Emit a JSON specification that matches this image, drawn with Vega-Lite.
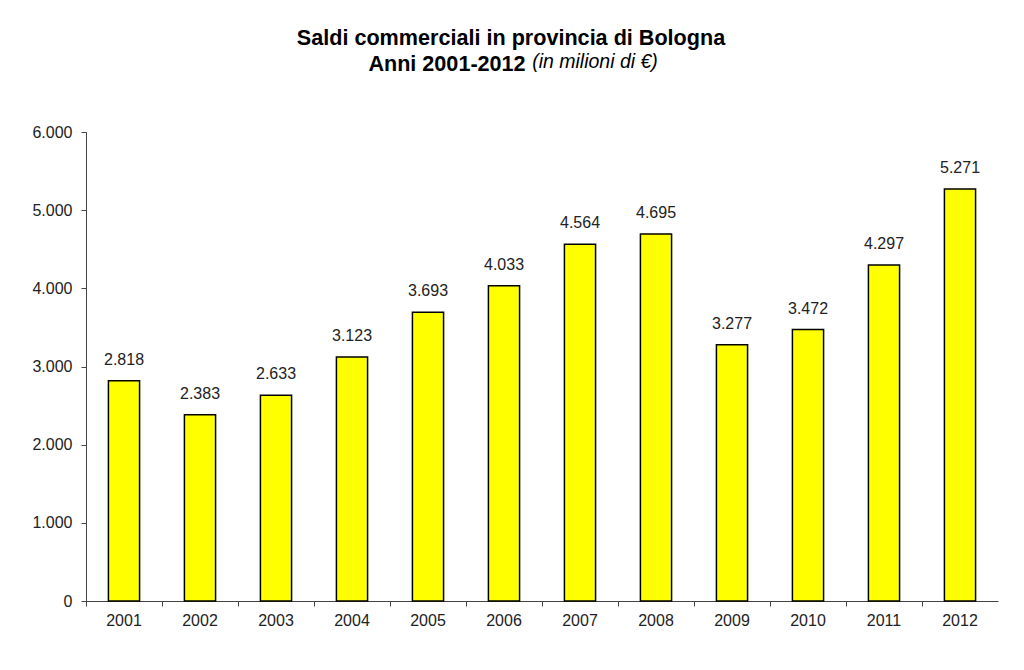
{
  "$schema": "https://vega.github.io/schema/vega-lite/v6.json",
  "width": 912,
  "height": 469,
  "autosize": "none",
  "padding": {"left": 86, "top": 132, "right": 26, "bottom": 69},
  "background": "white",
  "config": {
    "locale": {"number": {"decimal": ",", "thousands": ".", "grouping": [3], "currency": ["€", ""]}},
    "font": "Liberation Sans",
    "view": {"stroke": null}
  },
  "title": {
    "text": ["Saldi commerciali in provincia di Bologna", "Anni 2001-2012\u2800\u2800\u2800\u2800\u2800\u2800\u2800\u2800"],
    "subtitle": "\u2800\u2800\u2800\u2800\u2800\u2800\u2800\u2800\u2800\u2800\u2800\u2800(in milioni di €)",
    "anchor": "middle",
    "dx": -31,
    "fontSize": 21.6,
    "fontWeight": "bold",
    "color": "#000000",
    "lineHeight": 26,
    "subtitleFontSize": 19.5,
    "subtitleFontStyle": "italic",
    "subtitleColor": "#000000",
    "subtitlePadding": -23,
    "offset": 48
  },
  "data": {
    "values": [
      {"anno": "2001", "valore": 2818},
      {"anno": "2002", "valore": 2383},
      {"anno": "2003", "valore": 2633},
      {"anno": "2004", "valore": 3123},
      {"anno": "2005", "valore": 3693},
      {"anno": "2006", "valore": 4033},
      {"anno": "2007", "valore": 4564},
      {"anno": "2008", "valore": 4695},
      {"anno": "2009", "valore": 3277},
      {"anno": "2010", "valore": 3472},
      {"anno": "2011", "valore": 4297},
      {"anno": "2012", "valore": 5271}
    ]
  },
  "encoding": {
    "x": {
      "field": "anno",
      "type": "nominal",
      "scale": {"paddingInner": 0, "paddingOuter": 0},
      "axis": {
        "title": null,
        "labelAngle": 0,
        "bandPosition": 0,
        "tickSize": 5,
        "tickColor": "#444444",
        "domainColor": "#444444",
        "labelFontSize": 16,
        "labelColor": "#222222",
        "labelPadding": 6,
        "labelBound": false,
        "labelOverlap": false
      }
    },
    "y": {
      "field": "valore",
      "type": "quantitative",
      "scale": {"domain": [0, 6000], "nice": false},
      "axis": {
        "title": null,
        "grid": false,
        "values": [0, 1000, 2000, 3000, 4000, 5000, 6000],
        "format": ",d",
        "tickSize": 5,
        "tickColor": "#444444",
        "domainColor": "#444444",
        "labelFontSize": 16,
        "labelColor": "#222222",
        "labelPadding": 9
      }
    }
  },
  "layer": [
    {
      "mark": {"type": "bar", "width": {"band": 0.41}, "color": "#FFFF00", "stroke": "#000000", "strokeWidth": 1.5}
    },
    {
      "mark": {"type": "text", "baseline": "bottom", "dy": -13, "fontSize": 16, "color": "#222222"},
      "encoding": {"text": {"field": "valore", "type": "quantitative", "format": ",d"}}
    }
  ]
}
